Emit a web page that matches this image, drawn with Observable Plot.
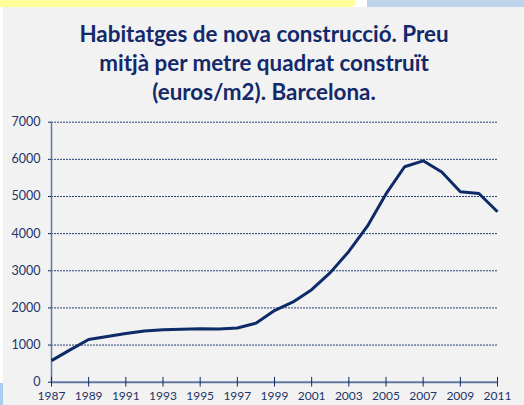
<!DOCTYPE html>
<html>
<head>
<meta charset="utf-8">
<script src="https://cdn.jsdelivr.net/npm/d3@7"></script>
<script src="https://cdn.jsdelivr.net/npm/@observablehq/plot@0.6"></script>
<style>
  html, body { margin: 0; padding: 0; background: #ffffff; }
  #wrap { position: relative; width: 524px; height: 405px; overflow: hidden; font-family: Lato, "Open Sans", sans-serif; }
  #panel { position: absolute; left: 3px; top: 7px; right: 0; bottom: 0; background: #f2f2f2; }
  #yellow { position: absolute; left: 0; top: 0; width: 356px; height: 7px; background: #ffff99; border-bottom-right-radius: 6px; }
  #bluetop { position: absolute; left: 367px; top: 0; width: 157px; height: 7px; background: #bdd3ec; }
  #blueleft { position: absolute; left: 0; top: 383px; width: 3px; height: 22px; background: #a9cdf0; }
  #title { position: absolute; left: 0; width: 528px; top: 19px; text-align: center; font-weight: bold; font-size: 22.4px; line-height: 29px; color: #13296a; }
  #chart { position: absolute; left: 0; top: 110px; }
</style>
</head>
<body>
<div id="wrap">
  <div id="yellow"></div>
  <div id="bluetop"></div>
  <div id="blueleft"></div>
  <div id="panel"></div>
  <div id="title">Habitatges de nova construcció. Preu<br>mitjà per metre quadrat construït<br>(euros/m2). Barcelona.</div>
  <div id="chart"></div>
</div>
<script>
const years = [1987,1988,1989,1990,1991,1992,1993,1994,1995,1996,1997,1998,1999,2000,2001,2002,2003,2004,2005,2006,2007,2008,2009,2010,2011];
const prices = [580,870,1150,1230,1310,1380,1410,1425,1440,1430,1460,1590,1930,2160,2490,2950,3520,4200,5070,5800,5960,5660,5130,5080,4590];
const xTicks = [1987,1989,1991,1993,1995,1997,1999,2001,2003,2005,2007,2009,2011];
const yTicks = [0,1000,2000,3000,4000,5000,6000,7000];
const gridLines = [1000,2000,3000,4000,5000,6000,7000];

const data = years.map((y, i) => ({year: y, price: prices[i]}));
const navy = "#0d2b66";
const axisCol = "#6277a3";
const textCol = "#1e3468";

const chart = Plot.plot({
  width: 524,
  height: 295,
  marginTop: 11.7,
  marginBottom: 23.3,
  marginLeft: 51,
  marginRight: 27,
  style: {background: "transparent", fontFamily: "Lato, 'Open Sans', sans-serif", color: textCol},
  x: {domain: [1987, 2011]},
  y: {domain: [0, 7000]},
  marks: [
    Plot.ruleY(gridLines, {y: d => d, stroke: navy, strokeWidth: 1, strokeDasharray: "2,1", strokeOpacity: 0.9}),
    Plot.ruleX([1987], {x: d => d, y1: 0, y2: 7000, stroke: axisCol, strokeWidth: 1.5}),
    Plot.ruleY([0], {y: d => d, stroke: axisCol, strokeWidth: 2}),
    Plot.ruleX(xTicks, {x: d => d, y1: -130, y2: 130, stroke: navy, strokeWidth: 1}),
    Plot.axisY({ticks: yTicks, tickSize: 3, tickPadding: 8, fontSize: 12.5, stroke: navy, fill: textCol, tickFormat: d => String(d), label: null}),
    Plot.axisX({ticks: xTicks, tickSize: 0, tickPadding: 9.5, fontSize: 12, fill: textCol, tickFormat: d => String(d), label: null}),
    Plot.line(data, {x: "year", y: "price", stroke: navy, strokeWidth: 3, strokeLinejoin: "miter", strokeLinecap: "butt"})
  ]
});
document.getElementById("chart").appendChild(chart);
</script>
</body>
</html>
